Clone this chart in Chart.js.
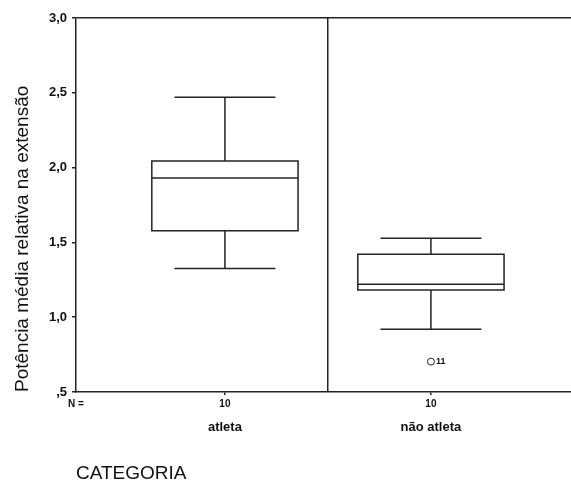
<!DOCTYPE html>
<html>
<head>
<meta charset="utf-8">
<script src="https://cdn.jsdelivr.net/npm/chart.js@4.4.1/dist/chart.umd.min.js"></script>
<style>
  html, body { margin: 0; padding: 0; background: #fff; }
</style>
</head>
<body>
<canvas id="chart" width="571" height="485"></canvas>
<script>
// -----------------------------
// DATA
// -----------------------------
const categories = ["atleta", "não atleta"];
const nCounts = [10, 10];
const upperWhisker = [2.47, 1.527];
const q3 = [2.044, 1.42];
const median = [1.93, 1.22];
const q1 = [1.578, 1.182];
const lowerWhisker = [1.326, 0.92];
const outlierValues = [0.703];
const outlierCategory = [1];   // index into categories
const outlierLabels = ["11"];
const yTicks = [0.5, 1.0, 1.5, 2.0, 2.5, 3.0];

// -----------------------------
// STYLE
// -----------------------------
const ink = "#232323";
const textInk = "#111";
const xMin = 0.277, xMax = 2.68;   // category i sits at i + 1
const boxHalf = 0.355, capHalf = 0.245;
Chart.defaults.font.family = "'Liberation Sans', Arial, sans-serif";

function fmtY(v) {
  const s = v.toFixed(1).replace(".", ",");
  return s.startsWith("0") ? s.slice(1) : s;
}

// boxes, whiskers and caps drawn through the chart scales
const boxPlugin = {
  id: "boxes",
  beforeDatasetsDraw(chart) {
    const { ctx, scales: { x, y } } = chart;
    ctx.save();
    ctx.strokeStyle = ink;
    ctx.lineWidth = 1.5;
    categories.forEach((c, i) => {
      const cx = x.getPixelForValue(i + 1);
      const bl = x.getPixelForValue(i + 1 - boxHalf), br = x.getPixelForValue(i + 1 + boxHalf);
      const cl = x.getPixelForValue(i + 1 - capHalf), cr = x.getPixelForValue(i + 1 + capHalf);
      const yU = y.getPixelForValue(upperWhisker[i]);
      const y3 = y.getPixelForValue(q3[i]);
      const yM = y.getPixelForValue(median[i]);
      const y1 = y.getPixelForValue(q1[i]);
      const yL = y.getPixelForValue(lowerWhisker[i]);
      ctx.beginPath();
      ctx.rect(bl, y3, br - bl, y1 - y3);
      ctx.moveTo(bl, yM); ctx.lineTo(br, yM);
      ctx.moveTo(cx, y3); ctx.lineTo(cx, yU);
      ctx.moveTo(cl, yU); ctx.lineTo(cr, yU);
      ctx.moveTo(cx, y1); ctx.lineTo(cx, yL);
      ctx.moveTo(cl, yL); ctx.lineTo(cr, yL);
      ctx.stroke();
    });
    ctx.restore();
  },
  afterDatasetsDraw(chart) {
    const { ctx } = chart;
    const meta = chart.getDatasetMeta(0);
    ctx.save();
    ctx.fillStyle = textInk;
    ctx.font = "bold 9px 'Liberation Sans', Arial, sans-serif";
    ctx.textBaseline = "middle";
    meta.data.forEach((pt, k) => ctx.fillText(outlierLabels[k], pt.x + 5, pt.y));
    ctx.restore();
  }
};

new Chart(document.getElementById("chart"), {
  type: "scatter",
  data: {
    datasets: [{
      label: "outliers",
      data: outlierValues.map((v, k) => ({ x: outlierCategory[k] + 1, y: v })),
      pointRadius: 3.5,
      pointBackgroundColor: "#fff",
      pointBorderColor: ink,
      pointBorderWidth: 1
    }]
  },
  options: {
    responsive: false,
    animation: false,
    layout: { autoPadding: false, padding: { top: 18, left: 0, right: 0, bottom: 0 } },
    plugins: { legend: { display: false }, tooltip: { enabled: false } },
    scales: {
      x: {
        type: "linear", position: "bottom", weight: 0,
        min: xMin, max: xMax,
        afterBuildTicks: s => { s.ticks = [{ value: xMin }, { value: 1 }, { value: 1.5 }, { value: 2 }]; },
        ticks: {
          autoSkip: false, maxRotation: 0, padding: 3, color: textInk,
          font: { size: 10, weight: "bold" },
          callback: (v, i) => i === 0 ? "N =" : (v === 1.5 ? "" : String(nCounts[Math.round(v) - 1]))
        },
        grid: {
          color: c => (c.tick && c.tick.value === 1.5) ? ink : "transparent",
          tickColor: c => (c.tick && (c.tick.value === 1 || c.tick.value === 2)) ? ink : "transparent",
          tickLength: 3, lineWidth: 1.5
        },
        border: { color: ink, width: 1.5 },
        afterFit: s => { s.height = 20; }
      },
      x2: {
        type: "linear", position: "bottom", weight: 1,
        min: xMin, max: xMax,
        afterBuildTicks: s => { s.ticks = categories.map((c, i) => ({ value: i + 1 })); },
        ticks: {
          autoSkip: false, maxRotation: 0, padding: 8, color: textInk,
          font: { size: 13, weight: "bold" },
          callback: v => categories[Math.round(v) - 1]
        },
        grid: { display: false, drawTicks: false },
        border: { display: false },
        title: {
          display: true, text: "CATEGORIA", align: "start", color: textInk,
          font: { size: 19 }, padding: { top: 0, bottom: 0 }
        },
        afterFit: s => { s.height = 73; }
      },
      y: {
        min: 0.5, max: 3.0,
        afterBuildTicks: s => { s.ticks = yTicks.map(v => ({ value: v })); },
        ticks: { padding: 5, color: textInk, font: { size: 13, weight: "bold" }, callback: v => fmtY(v) },
        grid: {
          color: c => (c.tick && c.tick.value === 3) ? ink : "transparent",
          tickColor: ink, tickLength: 4, lineWidth: 1.5
        },
        border: { color: ink, width: 1.5 },
        title: {
          display: true, text: "Potência média relativa na extensão", align: "start", color: textInk,
          font: { size: 19 }, padding: { top: 11, bottom: 0 }
        },
        afterFit: s => { s.width = 76; }
      }
    }
  },
  plugins: [boxPlugin]
});
</script>
</body>
</html>
